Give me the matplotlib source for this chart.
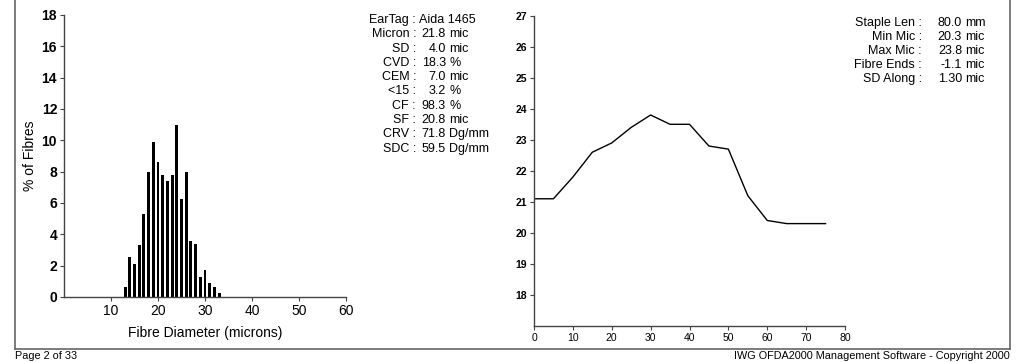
import matplotlib
matplotlib.use("Agg")
import matplotlib.pyplot as plt
from matplotlib.lines import Line2D

plt.rcParams['font.family'] = ['Liberation Sans', 'DejaVu Sans']

# histogram: fibre diameter (microns) vs % of fibres
diam = [13, 14, 15, 16, 17, 18, 19, 20, 21, 22, 23, 24, 25, 26, 27, 28, 29, 30, 31, 32, 33]
pct = [0.66, 2.55, 2.12, 3.35, 5.27, 8.0, 9.87, 8.62, 7.77, 7.39, 7.77, 10.96,
       6.28, 8.0, 3.6, 3.37, 1.27, 1.7, 0.87, 0.66, 0.23]

# profile along the staple
pos = [0, 5, 10, 15, 20, 25, 30, 35, 40, 45, 50, 55, 60, 65, 70, 75]
mic = [21.1, 21.1, 21.8, 22.6, 22.9, 23.4, 23.8, 23.5, 23.5, 22.8, 22.7, 21.2, 20.4, 20.3, 20.3, 20.3]

stats_labels = ["EarTag :", "Micron :", "SD :", "CVD :", "CEM :", "<15 :", "CF :", "SF :", "CRV :", "SDC :"]
stats_nums = ["Aida 1465", "21.8", "4.0", "18.3", "7.0", "3.2", "98.3", "20.8", "71.8", "59.5"]
stats_units = ["", "mic", "mic", "%", "mic", "%", "%", "mic", "Dg/mm", "Dg/mm"]

prof_labels = ["Staple Len :", "Min Mic :", "Max Mic :", "Fibre Ends :", "SD Along :"]
prof_nums = ["80.0", "20.3", "23.8", "-1.1", "1.30"]
prof_units = ["mm", "mic", "mic", "mic", "mic"]

W, H = 1024, 362
fig = plt.figure(figsize=(W / 100, H / 100), dpi=100)


def fx(px):
    return px / W


def fy(py):
    return 1 - py / H


def style(ax, size):
    for s in ['top', 'right']:
        ax.spines[s].set_visible(False)
    for s in ['left', 'bottom']:
        ax.spines[s].set_color('#444444')
        ax.spines[s].set_linewidth(1.0)
    ax.tick_params(length=3, width=0.8, color='#444444', labelsize=size, pad=2)
    for lab in ax.get_yticklabels():
        lab.set_fontweight('bold')


# left chart
ax1 = fig.add_axes([fx(64), fy(297), fx(346) - fx(64), fy(15) - fy(297)])
ax1.bar(diam, pct, width=0.62, color='black')
ax1.set_xlim(0, 60)
ax1.set_ylim(0, 18)
ax1.set_xticks([10, 20, 30, 40, 50, 60])
ax1.set_yticks(range(0, 19, 2))
style(ax1, 10)
ax1.set_xlabel("Fibre Diameter (microns)", fontsize=10, labelpad=6)
ax1.set_ylabel("% of Fibres", fontsize=10)
ax1.yaxis.set_label_coords((37 - 64) / 282, 0.5)

# right chart
ax2 = fig.add_axes([fx(534), fy(326), fx(845) - fx(534), fy(15.7) - fy(326)])
ax2.plot(pos, mic, color='black', linewidth=1.0)
ax2.set_xlim(0, 80)
ax2.set_ylim(17, 27)
ax2.set_xticks(range(0, 81, 10))
ax2.set_yticks(range(18, 28))
style(ax2, 7.5)

# stats blocks
fs = 9
for i in range(len(stats_labels)):
    y = fy(20 + i * 14.3)
    fig.text(fx(416), y, stats_labels[i], ha='right', va='center', fontsize=fs)
    if stats_units[i] == "":
        fig.text(fx(419), y, stats_nums[i], ha='left', va='center', fontsize=fs)
    else:
        fig.text(fx(446), y, stats_nums[i], ha='right', va='center', fontsize=fs)
        fig.text(fx(449), y, stats_units[i], ha='left', va='center', fontsize=fs)

for i in range(len(prof_labels)):
    y = fy(23 + i * 14)
    fig.text(fx(922), y, prof_labels[i], ha='right', va='center', fontsize=fs)
    fig.text(fx(962), y, prof_nums[i], ha='right', va='center', fontsize=fs)
    fig.text(fx(965), y, prof_units[i], ha='left', va='center', fontsize=fs)

# page border
bc = '#666666'
fig.add_artist(Line2D([fx(15), fx(15)], [fy(349), 1.0], color=bc, linewidth=1.2))
fig.add_artist(Line2D([fx(1010), fx(1010)], [fy(349), 1.0], color=bc, linewidth=1.2))
fig.add_artist(Line2D([fx(15), fx(1010)], [fy(349), fy(349)], color=bc, linewidth=1.2))

fig.text(fx(15), fy(356), "Page 2 of 33", ha='left', va='center', fontsize=7.8)
fig.text(fx(1010), fy(356), "IWG OFDA2000 Management Software - Copyright 2000",
         ha='right', va='center', fontsize=7.8)

fig.savefig("out.png", dpi=100)
